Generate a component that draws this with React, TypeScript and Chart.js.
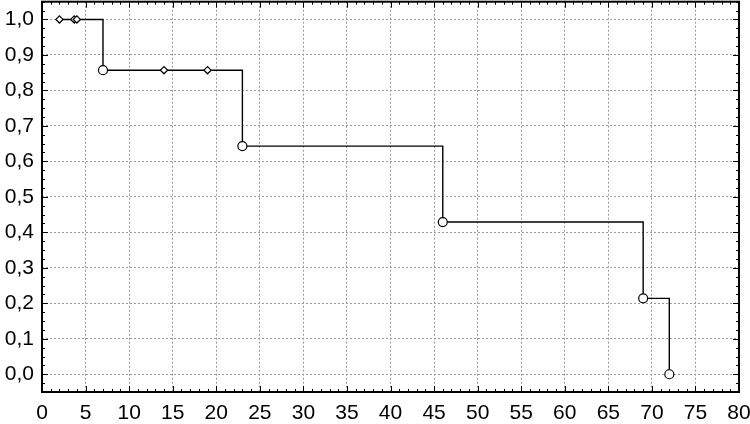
import React, { useEffect, useRef } from 'react';
import { Chart, registerables } from 'chart.js';

Chart.register(...registerables);

// Survival data (Kaplan-Meier style step curve)
const times = [2, 3.7, 4, 7, 14, 19, 23, 46, 69, 72];
const survival = [1, 1, 1, 0.857, 0.857, 0.857, 0.643, 0.429, 0.214, 0];
const censored = [true, true, true, false, true, true, false, false, false, false];

const xTickValues = [0, 5, 10, 15, 20, 25, 30, 35, 40, 45, 50, 55, 60, 65, 70, 75, 80];
const xTickLabels = ['0', '5', '10', '15', '20', '25', '30', '35', '40', '45', '50', '55', '60', '65', '70', '75', '80'];
const yTickValues = [0, 0.1, 0.2, 0.3, 0.4, 0.5, 0.6, 0.7, 0.8, 0.9, 1.0];
const yTickLabels = ['0,0', '0,1', '0,2', '0,3', '0,4', '0,5', '0,6', '0,7', '0,8', '0,9', '1,0'];

const X_MIN = 0;
const X_MAX = 80;
const Y_MIN = -0.05;
const Y_MAX = 1.05;

const FONT = { family: '"Liberation Sans", Arial, sans-serif', size: 21 };

const framePlugin = {
  id: 'frameTicks',
  beforeDatasetsDraw(chart: any) {
    const { ctx, chartArea, scales } = chart;
    const { left, right, top, bottom } = chartArea;
    const x = scales.x;
    const y = scales.y;
    ctx.save();
    ctx.strokeStyle = '#000';
    ctx.lineWidth = 1;
    ctx.beginPath();
    for (let v = X_MIN; v <= X_MAX; v += 1) {
      const px = Math.round(x.getPixelForValue(v)) + 0.5;
      const len = v % 5 === 0 ? 6 : 3;
      ctx.moveTo(px, bottom);
      ctx.lineTo(px, bottom - len);
      ctx.moveTo(px, top);
      ctx.lineTo(px, top + len);
    }
    for (let i = -2; i <= 42; i++) {
      const v = i * 0.025;
      const py = Math.round(y.getPixelForValue(v)) + 0.5;
      const len = i % 4 === 0 ? 6 : 3;
      ctx.moveTo(left, py);
      ctx.lineTo(left + len, py);
      ctx.moveTo(right, py);
      ctx.lineTo(right - len, py);
    }
    ctx.stroke();
    ctx.lineWidth = 2;
    ctx.strokeRect(left, top, right - left, bottom - top);
    ctx.restore();
  },
};

export default function App() {
  const canvasRef = useRef<HTMLCanvasElement | null>(null);

  useEffect(() => {
    if (!canvasRef.current) return;
    const chart = new Chart(canvasRef.current, {
      type: 'line',
      data: {
        datasets: [
          {
            data: times.map((t, i) => ({ x: t, y: survival[i] })),
            stepped: 'before',
            borderColor: '#000',
            borderWidth: 1.4,
            fill: false,
            pointStyle: censored.map((c) => (c ? 'rectRot' : 'circle')) as any,
            pointRadius: censored.map((c) => (c ? 3.6 : 4.5)),
            pointBackgroundColor: '#fff',
            pointBorderColor: '#000',
            pointBorderWidth: 1.2,
            clip: false as any,
          },
        ],
      },
      options: {
        animation: false,
        responsive: false,
        devicePixelRatio: 1,
        layout: { padding: { top: 1, right: 11, left: 0, bottom: 0 } },
        plugins: { legend: { display: false }, tooltip: { enabled: false } },
        scales: {
          x: {
            type: 'linear',
            min: X_MIN,
            max: X_MAX,
            afterBuildTicks: (scale: any) => {
              scale.ticks = xTickValues.map((v) => ({ value: v }));
            },
            afterFit: (scale: any) => {
              scale.height = 32;
              scale.paddingLeft = 0;
              scale.paddingRight = 0;
              scale.paddingTop = 0;
              scale.paddingBottom = 0;
            },
            ticks: {
              color: '#000',
              font: FONT,
              padding: 9,
              maxRotation: 0,
              autoSkip: false,
              callback: (_v: any, i: number) => xTickLabels[i],
            },
            grid: { color: '#9a9a9a', drawTicks: false, lineWidth: 1 },
            border: { display: false, dash: [2, 2] },
          },
          y: {
            type: 'linear',
            min: Y_MIN,
            max: Y_MAX,
            afterBuildTicks: (scale: any) => {
              scale.ticks = yTickValues.map((v) => ({ value: v }));
            },
            afterFit: (scale: any) => {
              scale.width = 42;
              scale.paddingTop = 0;
              scale.paddingBottom = 0;
              scale.paddingLeft = 0;
              scale.paddingRight = 0;
            },
            ticks: {
              color: '#000',
              font: FONT,
              padding: 8,
              autoSkip: false,
              callback: (_v: any, i: number) => yTickLabels[i],
            },
            grid: { color: '#9a9a9a', drawTicks: false, lineWidth: 1 },
            border: { display: false, dash: [2, 2] },
          },
        },
      },
      plugins: [framePlugin],
    });
    return () => chart.destroy();
  }, []);

  return (
    <div style={{ position: 'absolute', left: 0, top: 0, width: 750, height: 424, background: '#fff', overflow: 'hidden' }}>
      <canvas ref={canvasRef} width={750} height={428} style={{ position: 'absolute', left: 0, top: -4 }} />
    </div>
  );
}
